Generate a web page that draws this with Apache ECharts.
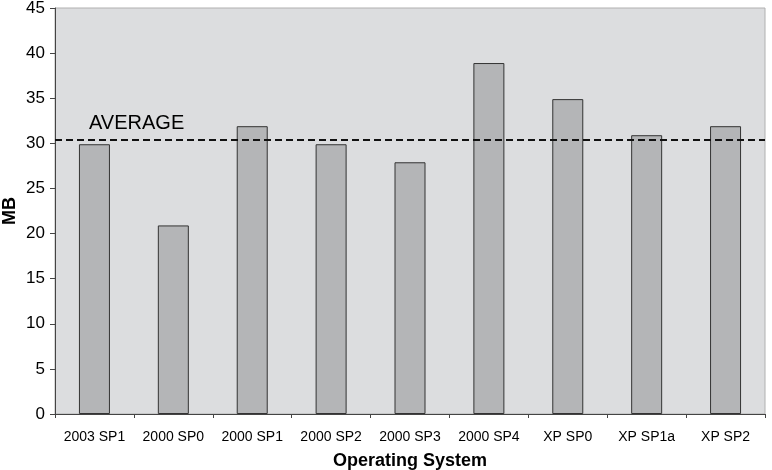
<!DOCTYPE html>
<html>
<head>
<meta charset="utf-8">
<style>
  html, body { margin: 0; padding: 0; background: #fff; }
  #chart { width: 772px; height: 470px; }
</style>
<script src="https://cdn.jsdelivr.net/npm/echarts@6/dist/echarts.min.js"></script>
</head>
<body>
<div id="chart"></div>
<script>
// data
var categories = ["2003 SP1", "2000 SP0", "2000 SP1", "2000 SP2", "2000 SP3", "2000 SP4", "XP SP0", "XP SP1a", "XP SP2"];
var sizes = [29.9, 20.9, 31.9, 29.9, 27.9, 38.9, 34.9, 30.9, 31.9];
var averageValue = 30.35;

var chart = echarts.init(document.getElementById("chart"));

var option = {
  animation: false,
  backgroundColor: "#ffffff",
  textStyle: { fontFamily: "Liberation Sans, Arial, sans-serif" },
  grid: {
    left: 55, right: 7, top: 8, bottom: 56,
    containLabel: false,
    outerBoundsMode: "none",
    show: true,
    backgroundColor: "#dcdddf",
    borderColor: "#b0b0b0",
    borderWidth: 1
  },
  xAxis: {
    type: "category",
    data: categories,
    name: "Operating System",
    nameLocation: "middle",
    nameGap: 38,
    nameMoveOverlap: false,
    nameTextStyle: { fontSize: 18, fontWeight: "bold", color: "#000" },
    axisLine: { lineStyle: { color: "#444", width: 1 } },
    axisTick: { show: true, interval: 0, length: 4, lineStyle: { color: "#444" } },
    axisLabel: { interval: 0, hideOverlap: false, fontSize: 14, color: "#000", margin: 16 },
    splitLine: { show: false }
  },
  yAxis: {
    type: "value",
    min: 0, max: 45, interval: 5,
    name: "MB",
    nameLocation: "middle",
    nameGap: 36,
    nameMoveOverlap: false,
    nameTextStyle: { fontSize: 18, fontWeight: "bold", color: "#000" },
    axisLine: { show: true, lineStyle: { color: "#444", width: 1 } },
    axisTick: { show: true, length: 5, lineStyle: { color: "#444" } },
    axisLabel: { fontSize: 17, color: "#000", margin: 10 },
    splitLine: { show: false }
  },
  series: [{
    type: "bar",
    data: sizes,
    barWidth: 31,
    itemStyle: { color: "#b4b5b7", borderColor: "#333", borderWidth: 1 },
    markLine: {
      symbol: "none",
      silent: true,
      data: [{ yAxis: averageValue }],
      lineStyle: { color: "#111", type: [7, 4], width: 2 },
      label: {
        show: true,
        formatter: "AVERAGE",
        position: "insideStartTop",
        distance: [34, 7],
        fontSize: 20,
        color: "#000"
      }
    }
  }]
};

chart.setOption(option);
</script>
</body>
</html>
